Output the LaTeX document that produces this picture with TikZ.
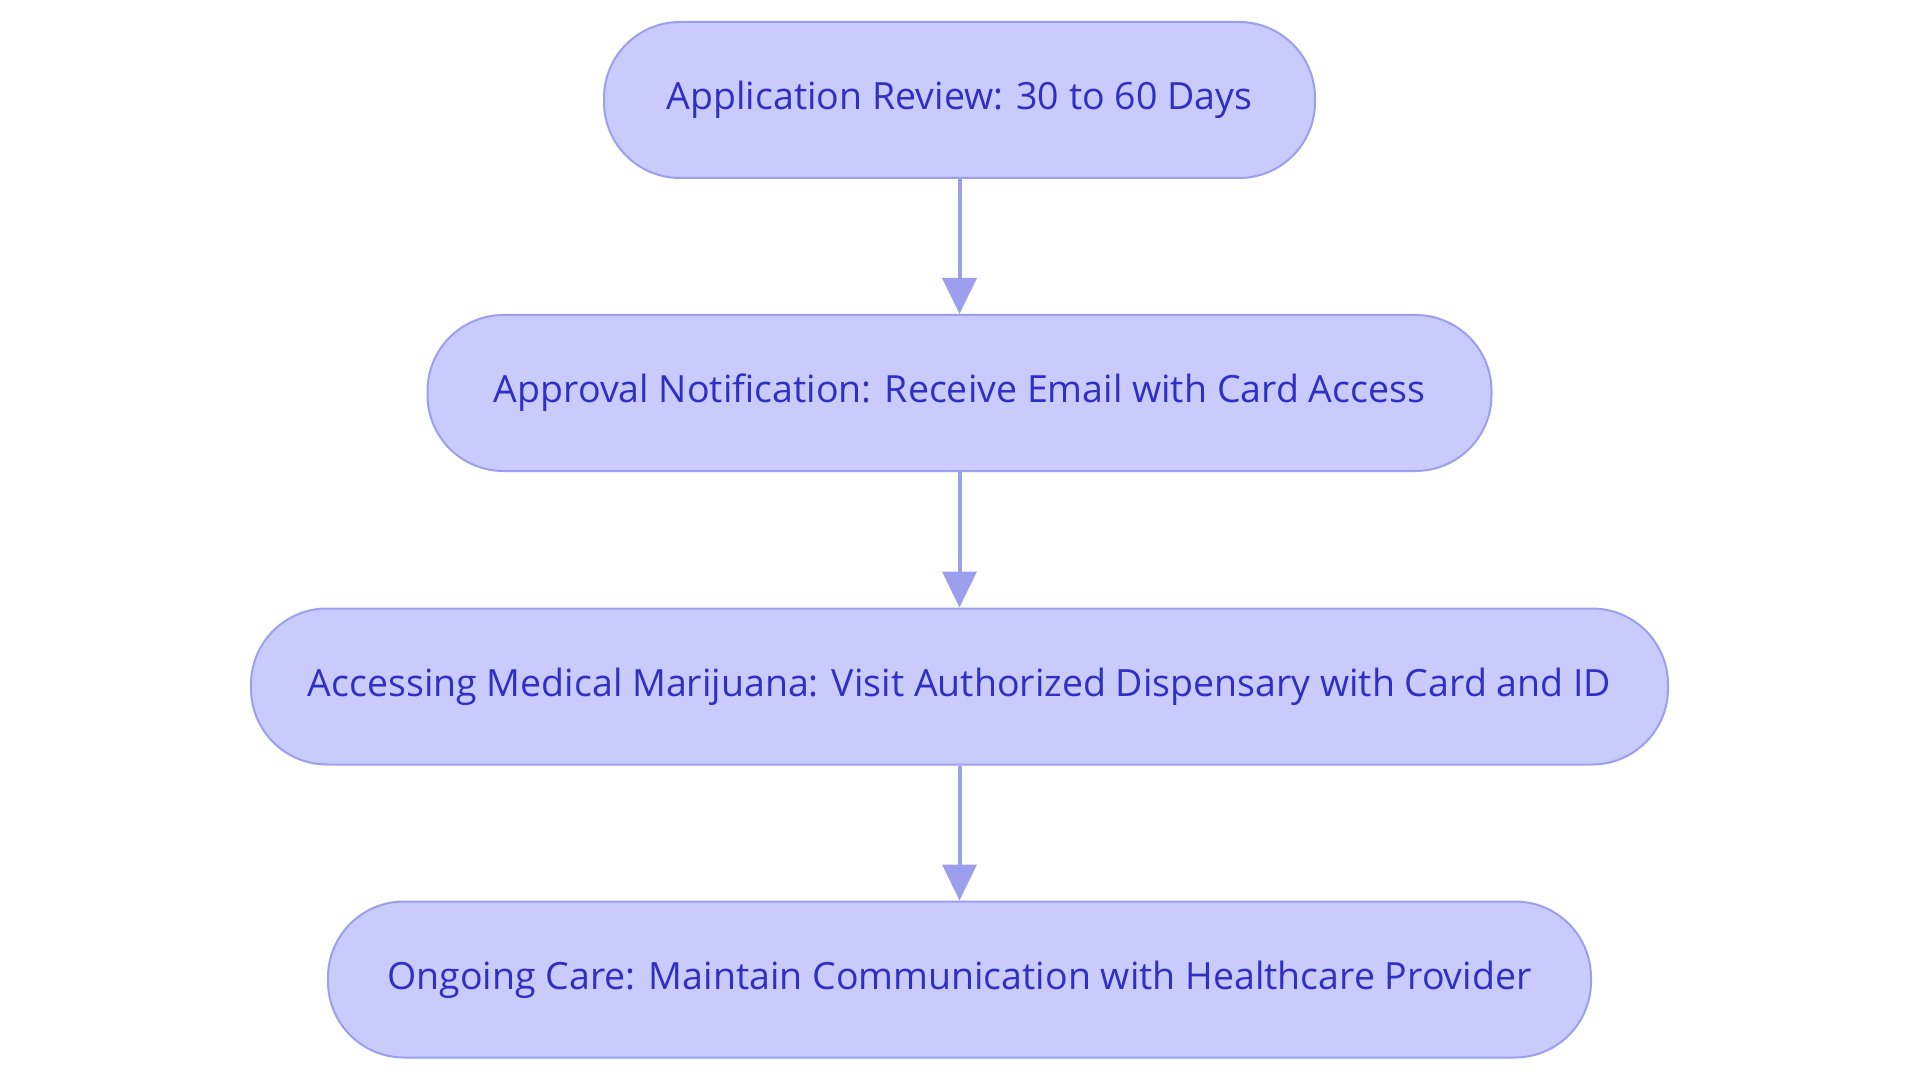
\documentclass[tikz,border=0pt]{standalone}
\usepackage{fontspec}
\setmainfont{Open Sans}
\usetikzlibrary{arrows.meta}
\definecolor{boxfill}{HTML}{CACBFD}
\definecolor{boxline}{HTML}{9C9FEE}
\definecolor{boxtext}{HTML}{2F2FC6}
\tikzset{
  stadium/.style={rectangle, rounded corners=76pt, minimum height=156pt,
    fill=boxfill, draw=boxline, line width=2pt, text=boxtext,
    font=\fontsize{37.5}{44}\selectfont, inner sep=0pt},
  flow/.style={draw=boxline, line width=4pt,
    -{Triangle[length=36pt,width=34pt]}, shorten >=0pt}
}
\begin{document}
\begin{tikzpicture}[x=1pt,y=-1pt]
\useasboundingbox (0,0) rectangle (1920,1083);
\node[stadium, minimum width=711pt] (a) at (959.5,100) {Application Review: 30 to 60 Days};
\node[stadium, minimum width=1064pt] (b) at (959.5,393) {Approval Notification: Receive Email with Card Access};
\node[stadium, minimum width=1417pt] (c) at (959.5,686.5) {Accessing Medical Marijuana: Visit Authorized Dispensary with Card and ID};
\node[stadium, minimum width=1263pt] (d) at (959.5,979.5) {Ongoing Care: Maintain Communication with Healthcare Provider};
\draw[flow] (a) -- (b);
\draw[flow] (b) -- (c);
\draw[flow] (c) -- (d);
\end{tikzpicture}
\end{document}
